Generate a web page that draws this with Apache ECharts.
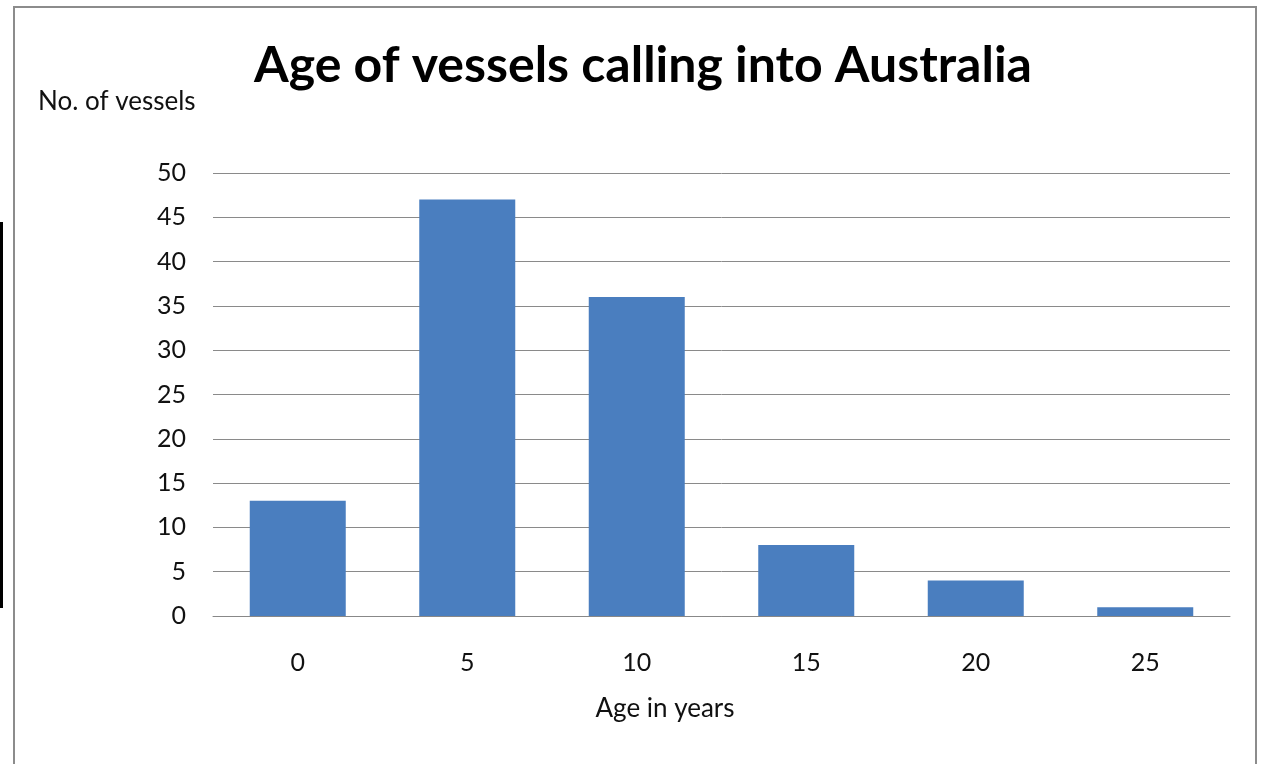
<!DOCTYPE html>
<html>
<head>
<meta charset="utf-8">
<script src="https://cdn.jsdelivr.net/npm/echarts@6/dist/echarts.min.js"></script>
<style>
  html, body { margin: 0; padding: 0; background: #fff; }
  #chart { width: 1261px; height: 764px; }
</style>
</head>
<body>
<div id="chart"></div>
<script>
// Vessel age buckets (years) and vessel counts
const ageLabels = ['0', '5', '10', '15', '20', '25'];
const vesselCounts = [13, 47, 36, 8, 4, 1];
const yTicks = { min: 0, max: 50, interval: 5 };

const FONT = 'Lato, "Open Sans", sans-serif';

const chart = echarts.init(document.getElementById('chart'), null, { renderer: 'canvas' });

chart.setOption({
  backgroundColor: '#ffffff',
  animation: false,
  title: {
    text: 'Age of vessels calling into Australia',
    left: 638,
    top: 36,
    textAlign: 'center',
    textStyle: { fontFamily: FONT, fontWeight: 'bold', fontSize: 50, color: '#000' }
  },
  grid: { left: 213, right: 31, top: 173, bottom: 148, containLabel: false },
  xAxis: {
    type: 'category',
    data: ageLabels,
    axisLine: { show: true, lineStyle: { color: '#888', width: 1 } },
    axisTick: { show: false },
    axisLabel: { margin: 34, fontFamily: FONT, fontSize: 25, color: '#111' },
    splitLine: { show: false }
  },
  yAxis: {
    type: 'value',
    min: yTicks.min,
    max: yTicks.max,
    interval: yTicks.interval,
    axisLine: { show: false },
    axisTick: { show: false },
    axisLabel: { margin: 27, fontFamily: FONT, fontSize: 25, color: '#111' },
    splitLine: { show: true, lineStyle: { color: '#8a8a8a', width: 1 } }
  },
  series: [{
    type: 'bar',
    data: vesselCounts,
    barWidth: 96,
    itemStyle: { color: '#4a7ebf' }
  }],
  graphic: [
    {
      type: 'rect',
      shape: { x: 14, y: 7, width: 1242, height: 770 },
      style: { fill: 'none', stroke: '#8c8c8c', lineWidth: 2 },
      z: -1
    },
    {
      type: 'rect',
      shape: { x: 0, y: 222, width: 3, height: 386 },
      style: { fill: '#000' }
    },
    {
      type: 'text',
      x: 38,
      y: 102,
      style: { text: 'No. of vessels', font: '26px ' + FONT, fill: '#111', verticalAlign: 'middle' }
    },
    {
      type: 'text',
      x: 665,
      y: 709,
      style: { text: 'Age in years', font: '26px ' + FONT, fill: '#111', align: 'center', verticalAlign: 'middle' }
    }
  ]
});
</script>
</body>
</html>
